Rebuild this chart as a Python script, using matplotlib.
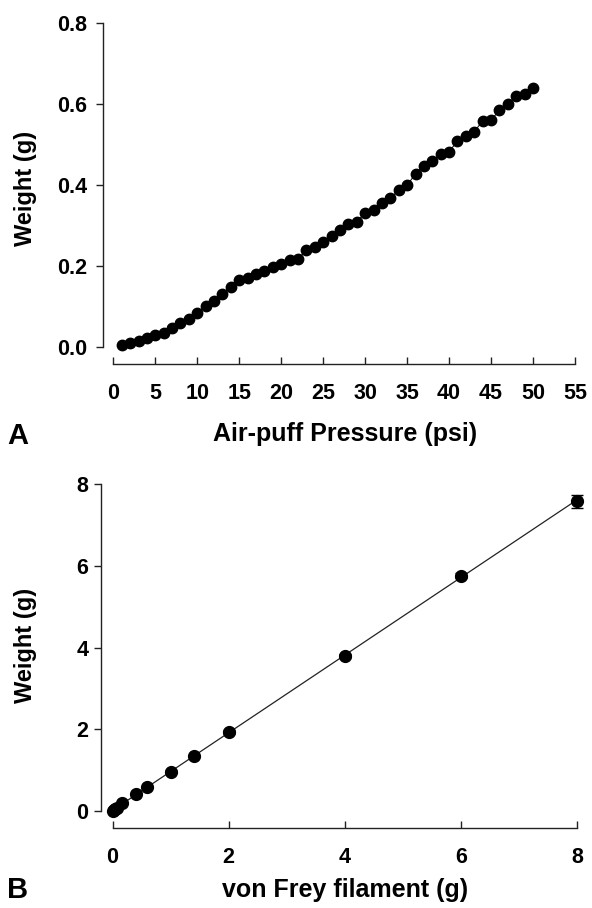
import numpy as np
import matplotlib
matplotlib.use("Agg")
import matplotlib.pyplot as plt

plt.rcParams['font.family'] = ['Liberation Sans', 'DejaVu Sans']
plt.rcParams['font.weight'] = 'bold'

# Panel A data
pressure_psi = list(range(1, 51))
weight_a = [0.006, 0.010, 0.015, 0.021, 0.029, 0.035, 0.047, 0.059, 0.070, 0.085,
            0.100, 0.113, 0.132, 0.148, 0.165, 0.170, 0.179, 0.188, 0.197, 0.206,
            0.214, 0.218, 0.239, 0.248, 0.260, 0.273, 0.290, 0.304, 0.309, 0.331,
            0.339, 0.356, 0.368, 0.387, 0.399, 0.428, 0.448, 0.459, 0.476, 0.482,
            0.509, 0.522, 0.532, 0.558, 0.561, 0.584, 0.600, 0.620, 0.624, 0.640]
a_xticks = [0, 5, 10, 15, 20, 25, 30, 35, 40, 45, 50, 55]
a_yticks = [0.0, 0.2, 0.4, 0.6, 0.8]

# Panel B data
filament_g = [0.008, 0.02, 0.04, 0.07, 0.16, 0.4, 0.6, 1.0, 1.4, 2.0, 4.0, 6.0, 8.0]
weight_b = [0.01, 0.02, 0.05, 0.09, 0.19, 0.41, 0.60, 0.97, 1.35, 1.94, 3.80, 5.76, 7.58]
weight_b_err = [0.005, 0.005, 0.005, 0.01, 0.01, 0.02, 0.02, 0.03, 0.03, 0.04, 0.05, 0.06, 0.16]
b_xticks = [0, 2, 4, 6, 8]
b_yticks = [0, 2, 4, 6, 8]

W, H = 592, 908
fig = plt.figure(figsize=(W / 100, H / 100), dpi=100)

def fx(px):
    return px / W

def fy(py):
    return 1 - py / H

spine_c = '#222222'
tick_fs = 15.5

def style(ax, ypad):
    for s in ['top', 'right']:
        ax.spines[s].set_visible(False)
    for s in ['left', 'bottom']:
        ax.spines[s].set_color(spine_c)
        ax.spines[s].set_linewidth(1.0)
    ax.tick_params(axis='y', direction='out', length=5, width=1, color=spine_c,
                   labelsize=tick_fs, pad=ypad)
    ax.tick_params(axis='x', direction='in', length=5, width=1, color=spine_c,
                   labelsize=tick_fs, pad=14)
    for lab in ax.get_xticklabels() + ax.get_yticklabels():
        lab.set_fontweight('bold')

# Panel A
a_top, a_bot = 23, 364
axA = fig.add_axes([fx(103), fy(a_bot), fx(575 - 103), (a_bot - a_top) / H])
axA.plot(pressure_psi, weight_a, color='black', lw=0.7, marker='o', ms=7.5,
         mfc='black', mec='black', clip_on=False)
axA.set_xlim(-1.23, 55)
axA.set_ylim(-0.042, 0.8)
axA.set_xticks(a_xticks)
axA.set_yticks(a_yticks)
axA.set_yticklabels([f"{v:.1f}" for v in a_yticks])
axA.spines['bottom'].set_bounds(0, 55)
axA.spines['left'].set_bounds(0, 0.8)
style(axA, 6.3)
axA.set_ylabel('Weight (g)', fontsize=17, fontweight='bold')
axA.yaxis.set_label_coords(-(103 - 37) / (575 - 103), (a_bot - 188) / (a_bot - a_top))
fig.text(fx(345), fy(434), 'Air-puff Pressure (psi)', fontsize=18, fontweight='bold',
         ha='center', va='center')
fig.text(fx(18), fy(436), 'A', fontsize=21, fontweight='bold', ha='center', va='center')

# Panel B
b_top, b_bot = 484, 828
axB = fig.add_axes([fx(101), fy(b_bot), fx(577 - 101), (b_bot - b_top) / H])
coef = np.polyfit(filament_g, weight_b, 1)
xl = np.array([0, 8])
axB.plot(xl, np.polyval(coef, xl), color='#222222', lw=0.9, zorder=2)
axB.errorbar(filament_g, weight_b, yerr=weight_b_err, fmt='o', color='black',
             ms=8.5, capsize=4, elinewidth=1, capthick=1, clip_on=False, zorder=3)
axB.set_xlim(-0.2, 8)
axB.set_ylim(-0.41, 8)
axB.set_xticks(b_xticks)
axB.set_yticks(b_yticks)
axB.spines['bottom'].set_bounds(0, 8)
axB.spines['left'].set_bounds(0, 8)
style(axB, 4)
axB.set_ylabel('Weight (g)', fontsize=17, fontweight='bold')
axB.yaxis.set_label_coords(-(101 - 37) / (577 - 101), (b_bot - 645) / (b_bot - b_top))
fig.text(fx(345), fy(890), 'von Frey filament (g)', fontsize=18, fontweight='bold',
         ha='center', va='center')
fig.text(fx(18), fy(890), 'B', fontsize=21, fontweight='bold', ha='center', va='center')

fig.savefig('out.png', dpi=100, facecolor='white')
